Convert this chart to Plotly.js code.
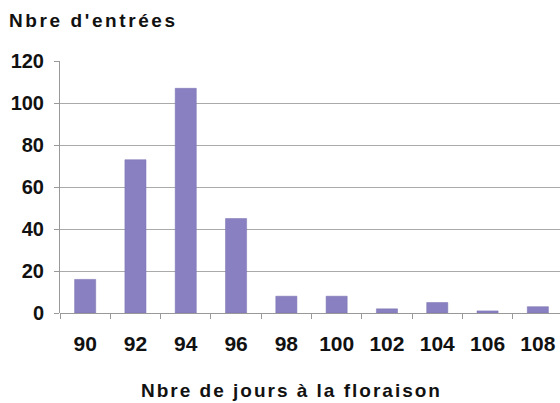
<!DOCTYPE html>
<html><head><meta charset="utf-8">
<script src="https://cdn.plot.ly/plotly-3.0.1.min.js"></script>
<style>
html,body{margin:0;padding:0;overflow:hidden;background:#fff;width:560px;height:403px}
#chart text.gtitle{letter-spacing:2.6px}
#chart text.annotation-text{letter-spacing:2.0px}
</style>
</head><body><div id="chart"></div>
<script>
const categories = ['90','92','94','96','98','100','102','104','106','108'];
const entries = [16, 73, 107, 45, 8, 8, 2, 5, 1, 3];
const yTicks = [0, 20, 40, 60, 80, 100, 120];
const yTitle = "Nbre d'entrées";
const xTitle = "Nbre de jours à la floraison";

const FAM = 'Liberation Sans, Arial, sans-serif';
const trace = {
  type: 'bar', x: categories, y: entries,
  marker: {color: '#8880c0', line: {color: '#7a72b3', width: 0.5}},
  hoverinfo: 'none'
};
const layout = {
  width: 565, height: 403,
  margin: {l: 60, r: 2, t: 61, b: 90},
  paper_bgcolor: '#fff', plot_bgcolor: '#fff',
  bargap: 0.58,
  showlegend: false,
  font: {family: FAM, size: 18, color: '#111'},
  title: {text: '<b>' + yTitle + '</b>', xref: 'container', yref: 'container',
          x: 9/565, xanchor: 'left', y: 1 - 20.5/403, yanchor: 'middle',
          font: {family: FAM, size: 19, color: '#111'}},
  annotations: [{
    text: '<b>' + xTitle + '</b>', xref: 'paper', yref: 'paper',
    x: (291.5 - 60) / 503, y: (313 - 390) / 252, xanchor: 'center', yanchor: 'middle',
    showarrow: false, font: {family: FAM, size: 19, color: '#111'}
  }],
  xaxis: {type: 'category', tickson: 'boundaries', ticks: 'outside', ticklen: 5,
          tickcolor: '#999', showline: false, showgrid: false, zeroline: false,
          ticklabelstandoff: 16,
          tickfont: {family: FAM, size: 21, color: '#111', weight: 'bold'}},
  yaxis: {range: [0, 120], tickvals: yTicks, ticktext: yTicks.map(String),
          ticks: 'outside', ticklen: 5, tickcolor: '#999',
          ticklabelstandoff: 6,
          showline: true, linecolor: '#999', linewidth: 1,
          showgrid: true, gridcolor: '#aaa', gridwidth: 1, zeroline: true, zerolinecolor: '#999',
          tickfont: {family: FAM, size: 20, color: '#111', weight: 'bold'}}
};
Plotly.newPlot('chart', [trace], layout, {staticPlot: true, displayModeBar: false});
</script></body></html>
